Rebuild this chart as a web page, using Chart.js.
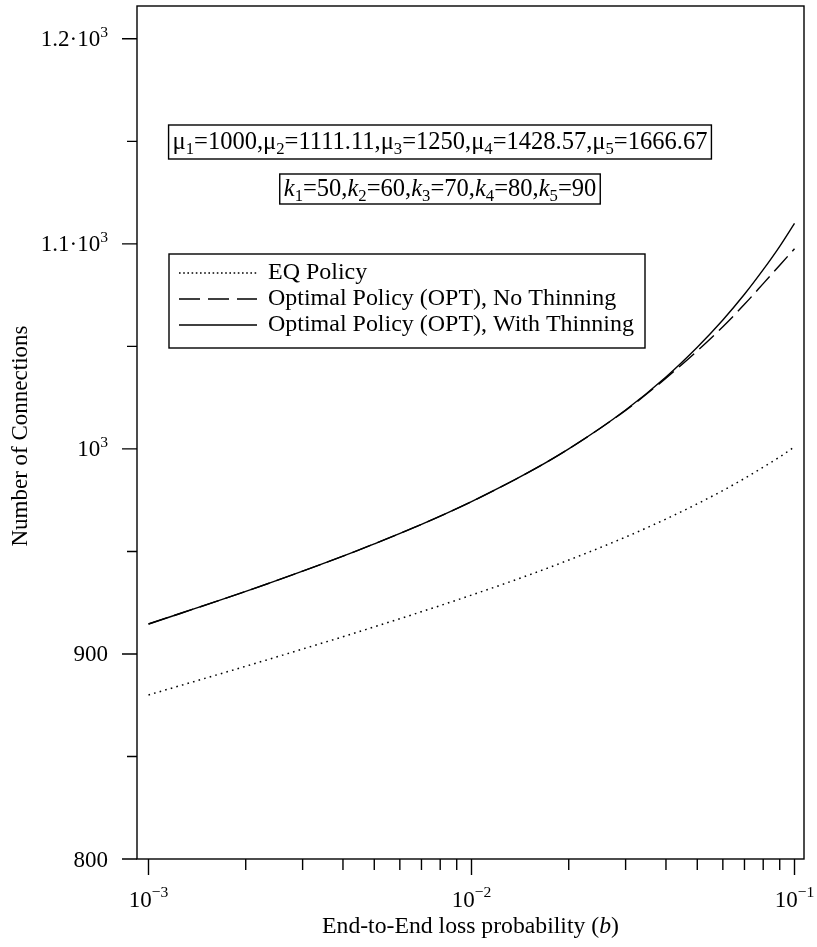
<!DOCTYPE html>
<html><head><meta charset="utf-8">
<script src="https://cdn.jsdelivr.net/npm/chart.js@4.4.1/dist/chart.umd.min.js"></script>
<style>html,body{margin:0;padding:0;background:#fff}canvas{display:block}</style>
</head><body>
<canvas id="c" width="817" height="947"></canvas>
<script>
// ---- data ----
const lossProb = [0.001,0.002,0.003,0.004,0.005,0.007,0.01,0.015,0.02,0.03,0.04,0.05,0.06,0.07,0.08,0.09,0.1];
const eqPolicy = [880.0,894.0,902.4,908.4,913.2,920.6,928.7,938.4,945.8,957.0,965.8,973.2,979.7,985.6,991.1,996.1,1001.0];
const optNoThinning = [914.6,930.5,940.4,947.7,953.7,963.2,974.3,988.5,1000.0,1018.8,1034.5,1047.8,1059.6,1070.5,1080.6,1089.6,1097.6];
const optWithThinning = [914.6,930.5,940.4,947.7,953.7,963.2,974.3,988.5,1000.0,1019.0,1035.1,1049.6,1062.9,1075.4,1087.4,1098.8,1110.0];
const seriesLabels = ['EQ Policy','Optimal Policy (OPT), No Thinning','Optimal Policy (OPT), With Thinning'];

const xMajorTicks = [0.001,0.01,0.1];
const xMajorLabels = ['10^\u22123','10^\u22122','10^\u22121'];
const xMinorTicks = [0.002,0.003,0.004,0.005,0.006,0.007,0.008,0.009,0.02,0.03,0.04,0.05,0.06,0.07,0.08,0.09];
const yMajorTicks = [800,900,1000,1100,1200];
const yMajorLabels = ['800','900','10^3','1.1\u00b710^3','1.2\u00b710^3'];
const yMinorTicks = [850,950,1050,1150];

const muValues = ['1000','1111.11','1250','1428.57','1666.67'];
const kValues = ['50','60','70','80','90'];
const xTitle = [{t:'End-to-End loss probability ('},{t:'b',i:true},{t:')'}];
const yTitle = 'Number of Connections';

// ---- helpers ----
const FF = '"Liberation Serif","Times New Roman",serif';
function fontFor(g,size){const sz=g.s?size*0.68:size;return (g.i?'italic ':'')+sz.toFixed(2)+'px '+FF;}
function richW(ctx,segs,size){let w=0;for(const g of segs){ctx.font=fontFor(g,size);w+=ctx.measureText(g.t).width;}return w;}
function richDraw(ctx,segs,x,y,size){ctx.textAlign='left';ctx.textBaseline='alphabetic';
  for(const g of segs){ctx.font=fontFor(g,size);const dy=g.s==='sub'?size*0.22:(g.s==='sup'?-size*0.42:0);
    ctx.fillText(g.t,x,y+dy);x+=ctx.measureText(g.t).width;}return x;}
function fitSize(ctx,segs,w){return 100*w/richW(ctx,segs,100);}
function parseSup(str){const p=str.split('^');const r=[{t:p[0]}];if(p[1])r.push({t:p[1],s:'sup'});return r;}

const muSegs=[];muValues.forEach((v,i)=>{muSegs.push({t:'\u03bc'},{t:String(i+1),s:'sub'},{t:'='+v+(i<muValues.length-1?',':'')});});
const kSegs=[];kValues.forEach((v,i)=>{kSegs.push({t:'k',i:true},{t:String(i+1),s:'sub'},{t:'='+v+(i<kValues.length-1?',':'')});});

const decor={id:'decor',afterDraw(chart){
  const ctx=chart.ctx,a=chart.chartArea,xs=chart.scales.x,ys=chart.scales.y;
  ctx.save();ctx.strokeStyle='#000';ctx.fillStyle='#000';ctx.lineWidth=1.4;ctx.setLineDash([]);
  ctx.strokeRect(a.left,a.top,a.right-a.left,a.bottom-a.top);
  ctx.beginPath();
  yMajorTicks.forEach(v=>{const p=ys.getPixelForValue(v);ctx.moveTo(a.left-15,p);ctx.lineTo(a.left,p);});
  yMinorTicks.forEach(v=>{const p=ys.getPixelForValue(v);ctx.moveTo(a.left-10,p);ctx.lineTo(a.left,p);});
  xMajorTicks.forEach(v=>{const p=xs.getPixelForValue(v);ctx.moveTo(p,a.bottom);ctx.lineTo(p,a.bottom+16);});
  xMinorTicks.forEach(v=>{const p=xs.getPixelForValue(v);ctx.moveTo(p,a.bottom);ctx.lineTo(p,a.bottom+11);});
  ctx.stroke();
  const TS=23;
  yMajorTicks.forEach((v,i)=>{const segs=parseSup(yMajorLabels[i]);const w=richW(ctx,segs,TS);
    richDraw(ctx,segs,108-w,ys.getPixelForValue(v)+7.5,TS);});
  xMajorTicks.forEach((v,i)=>{const segs=parseSup(xMajorLabels[i]);const w=richW(ctx,segs,TS);
    richDraw(ctx,segs,xs.getPixelForValue(v)-w/2,907,TS);});
  // axis titles
  let s=fitSize(ctx,xTitle,297);const wx=richW(ctx,xTitle,s);richDraw(ctx,xTitle,470.5-wx/2,933,s);
  ctx.save();ctx.translate(27,436);ctx.rotate(-Math.PI/2);
  s=fitSize(ctx,[{t:yTitle}],221);ctx.font=s.toFixed(2)+'px '+FF;ctx.textAlign='center';ctx.textBaseline='alphabetic';
  ctx.fillText(yTitle,0,0);ctx.restore();
  // annotation boxes
  const s1=fitSize(ctx,muSegs,535);const w1=richW(ctx,muSegs,s1);
  ctx.lineWidth=1.4;ctx.strokeRect(440-w1/2-4,125,w1+8,34);richDraw(ctx,muSegs,440-w1/2,149,s1);
  const w2=richW(ctx,kSegs,s1);
  ctx.strokeRect(440-w2/2-4,174,w2+8,30);richDraw(ctx,kSegs,440-w2/2,196,s1);
  // legend
  ctx.strokeRect(169,254,476,94);
  const lfs=fitSize(ctx,[{t:seriesLabels[2]}],366);
  chart.data.datasets.forEach((d,i)=>{const yb=279+26*i;const yl=yb-6;
    ctx.save();ctx.lineWidth=d.borderWidth;ctx.setLineDash(d.legendDash||[]);ctx.beginPath();ctx.moveTo(179,yl);ctx.lineTo(257,yl);ctx.stroke();ctx.restore();
    ctx.font=lfs.toFixed(2)+'px '+FF;ctx.textAlign='left';ctx.textBaseline='alphabetic';ctx.fillText(d.label,268,yb);});
  ctx.restore();
}};

const mk=(arr)=>lossProb.map((x,i)=>({x:x,y:arr[i]}));
new Chart(document.getElementById('c'),{
  type:'line',
  data:{datasets:[
    {label:seriesLabels[0],data:mk(eqPolicy),borderColor:'#000',borderWidth:1.5,borderDash:[1.6,4.2],legendDash:[1.6,2.6],pointRadius:0,cubicInterpolationMode:'monotone',fill:false},
    {label:seriesLabels[1],data:mk(optNoThinning),borderColor:'#000',borderWidth:1.4,borderDash:[20,7],legendDash:[21,8],pointRadius:0,cubicInterpolationMode:'monotone',fill:false},
    {label:seriesLabels[2],data:mk(optWithThinning),borderColor:'#000',borderWidth:1.4,pointRadius:0,cubicInterpolationMode:'monotone',fill:false}
  ]},
  options:{responsive:false,animation:false,
    layout:{padding:{left:137,right:13,top:6,bottom:88}},
    plugins:{legend:{display:false},tooltip:{enabled:false}},
    scales:{
      x:{type:'logarithmic',min:Math.pow(10,-3.0356),max:Math.pow(10,-0.9706),ticks:{display:false},grid:{display:false},border:{display:false},afterFit:s=>{s.height=0;}},
      y:{type:'linear',min:800,max:1216,ticks:{display:false},grid:{display:false},border:{display:false},afterFit:s=>{s.width=0;}}
    }},
  plugins:[decor]
});
</script>
</body></html>
